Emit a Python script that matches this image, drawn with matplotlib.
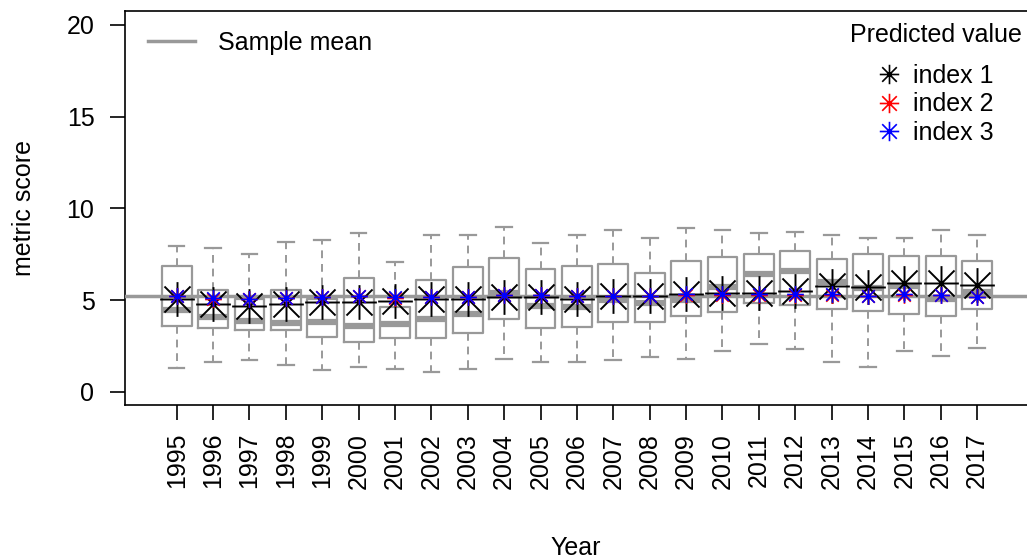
import matplotlib
matplotlib.use("Agg")
import matplotlib.pyplot as plt
from matplotlib.path import Path
from matplotlib.lines import Line2D

plt.rcParams['font.family'] = ['Liberation Sans', 'DejaVu Sans']

years = list(range(1995, 2018))
box_q3 = [6.88, 5.54, 5.04, 5.54, 5.04, 6.18, 4.60, 6.09, 6.78, 7.30, 6.69, 6.87,
          6.96, 6.45, 7.14, 7.32, 7.50, 7.67, 7.23, 7.49, 7.40, 7.40, 7.14]
box_q1 = [3.61, 3.47, 3.36, 3.36, 3.00, 2.72, 2.91, 2.91, 3.18, 3.96, 3.45, 3.51,
          3.81, 3.81, 4.14, 4.33, 4.85, 4.72, 4.49, 4.41, 4.22, 4.13, 4.49]
box_med = [4.43, 4.07, 3.87, 3.73, 3.78, 3.60, 3.69, 3.96, 4.23, 5.36, 4.67, 4.60,
           5.00, 4.82, 5.00, 5.72, 6.40, 6.58, 6.00, 5.63, 5.78, 5.05, 5.45]
whisk_hi = [7.96, 7.83, 7.49, 8.17, 8.27, 8.63, 7.05, 8.54, 8.54, 8.99, 8.09, 8.54,
            8.81, 8.36, 8.90, 8.81, 8.63, 8.72, 8.54, 8.36, 8.36, 8.81, 8.54]
whisk_lo = [1.27, 1.61, 1.71, 1.44, 1.17, 1.36, 1.25, 1.07, 1.25, 1.80, 1.60, 1.60,
            1.71, 1.89, 1.80, 2.23, 2.58, 2.33, 1.60, 1.35, 2.23, 1.96, 2.40]
pred_index1 = [5.05, 4.76, 4.67, 4.76, 4.87, 4.87, 4.96, 5.05, 5.05, 5.14, 5.14, 5.05,
               5.22, 5.22, 5.32, 5.40, 5.36, 5.49, 5.76, 5.72, 5.91, 5.91, 5.81]
pred_index2 = [5.20, 5.07, 5.03, 5.10, 5.16, 5.20, 5.12, 5.16, 5.16, 5.25, 5.25, 5.20,
               5.22, 5.20, 5.30, 5.30, 5.30, 5.30, 5.30, 5.22, 5.30, 5.25, 5.16]
pred_index3 = [5.23, 5.09, 5.05, 5.12, 5.18, 5.22, 5.14, 5.18, 5.18, 5.27, 5.27, 5.22,
               5.23, 5.22, 5.32, 5.32, 5.32, 5.32, 5.32, 5.22, 5.32, 5.27, 5.18]
sample_mean = 5.22

GRAY = '#999999'
FS = 18

# asterisk marker (R pch = 8)
d = 0.75
ast = Path([(-1, 0), (1, 0), (0, -1), (0, 1), (-d, -d), (d, d), (-d, d), (d, -d)],
           [Path.MOVETO, Path.LINETO] * 4)

fig = plt.figure(figsize=(10.27, 5.58), dpi=100)
ax = fig.add_axes([125 / 1027, 1 - 405 / 558, 1 - 125 / 1027, (405 - 11) / 558])

pos = list(range(len(years)))
stats = []
for i in pos:
    stats.append(dict(med=box_med[i], q1=box_q1[i], q3=box_q3[i],
                      whislo=whisk_lo[i], whishi=whisk_hi[i], label=str(years[i])))

ax.bxp(stats, positions=pos, widths=0.82, showfliers=False, capwidths=0.43,
       boxprops=dict(color=GRAY, lw=1.6),
       whiskerprops=dict(color=GRAY, lw=1.4, linestyle=(0, (4, 3))),
       capprops=dict(color=GRAY, lw=1.6),
       medianprops=dict(color=GRAY, lw=4.5, solid_capstyle='butt'))

ax.axhline(sample_mean, color=GRAY, lw=2.5, zorder=3)

ax.plot(pos, pred_index1, linestyle='none', marker=ast, markersize=25,
        color='black', mew=1.4, fillstyle='none', zorder=4)
ax.plot(pos, pred_index2, linestyle='none', marker=ast, markersize=12,
        color='red', mew=1.2, fillstyle='none', zorder=5)
ax.plot(pos, pred_index3, linestyle='none', marker=ast, markersize=12,
        color='blue', mew=1.2, fillstyle='none', zorder=6)

ax.set_xlim(-1.42, 23.37)
ax.set_ylim(-0.72, 20.75)
ax.set_yticks([0, 5, 10, 15, 20])
ax.set_xticks(pos)
ax.set_xticklabels([str(y) for y in years], rotation=90)
ax.spines['right'].set_visible(False)
for s in ['left', 'bottom', 'top']:
    ax.spines[s].set_linewidth(1.2)
ax.tick_params(axis='both', direction='out', length=11, width=1.2, labelsize=FS)
ax.tick_params(axis='y', pad=11)
ax.tick_params(axis='x', pad=9)
ax.set_xlabel('Year', fontsize=FS, labelpad=34)
ax.set_ylabel('metric score', fontsize=FS, labelpad=22)

h_mean = Line2D([], [], color=GRAY, lw=2.5)
leg1 = ax.legend([h_mean], ['Sample mean'], loc='upper left', frameon=False,
                 fontsize=FS, handlelength=1.9, handletextpad=0.9,
                 bbox_to_anchor=(0.003, 1.0), borderaxespad=0.4)
ax.add_artist(leg1)

hs = [Line2D([], [], linestyle='none', marker=ast, markersize=14, color=c,
             mew=1.2, fillstyle='none') for c in ['black', 'red', 'blue']]
leg2 = ax.legend(hs, ['index 1', 'index 2', 'index 3'], loc='upper right',
                 frameon=False, fontsize=FS, title='Predicted value',
                 title_fontsize=FS, handlelength=0.9, handletextpad=0.5,
                 labelspacing=0.17, bbox_to_anchor=(1.008, 1.0), borderaxespad=0.1)
leg2._legend_box.sep = 12

fig.savefig('out.png', dpi=100)
